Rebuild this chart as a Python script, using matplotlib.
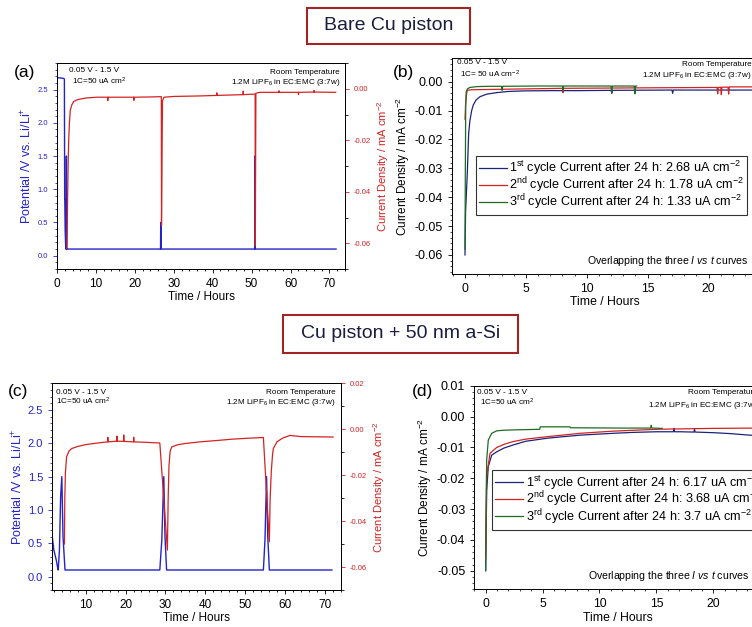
import numpy as np
import matplotlib.pyplot as plt
from matplotlib.patches import Rectangle
from matplotlib.ticker import MultipleLocator, FormatStrFormatter

plt.rcParams['font.family'] = ['Liberation Sans', 'DejaVu Sans']
plt.rcParams['axes.unicode_minus'] = False
plt.rcParams['mathtext.fontset'] = 'custom'
plt.rcParams['mathtext.rm'] = 'Liberation Sans'
plt.rcParams['mathtext.it'] = 'Liberation Sans:italic'

# ---- (a) bare Cu piston, potential and current vs time ----
a_pot_t = [0, 1.6, 1.9, 1.97, 2.0, 2.1, 2.25, 2.35, 2.42, 2.5, 2.56,
           26.6, 26.65, 26.7, 26.75, 50.8, 50.85, 50.9, 50.95, 71.7]
a_pot_v = [2.68, 2.67, 2.66, 0.85, 0.85, 0.38, 0.10, 0.10, 1.50, 0.10, 0.10,
           0.10, 0.50, 0.50, 0.10, 0.10, 1.50, 1.50, 0.10, 0.10]
a_cur_t = [2.56, 2.7, 2.85, 3.0, 3.2, 3.42, 3.8, 4.27, 5.0, 5.98, 7.5, 10.3,
           13.0, 13.05, 13.1, 19.7, 19.75, 19.8, 24.0, 26.5, 26.8, 26.85,
           27.1, 27.5, 30.0, 36.9, 41.0, 41.05, 41.1, 47.8, 47.85, 47.9,
           50.6, 50.9, 50.95, 51.1, 51.5, 52.1, 55.0, 57.0, 57.05, 57.1,
           62.0, 62.05, 62.1, 66.0, 66.05, 66.1, 71.6]
a_cur_v = [-0.062, -0.045, -0.030, -0.020, -0.013, -0.0082, -0.0062, -0.0049,
           -0.0043, -0.0039, -0.0035, -0.0032, -0.0032, -0.0045, -0.0032,
           -0.0032, -0.0044, -0.0032, -0.0031, -0.0030, -0.0030, -0.053,
           -0.0046, -0.0032, -0.0029, -0.0027, -0.0025, -0.0015, -0.0025,
           -0.0022, -0.0008, -0.0022, -0.0020, -0.0020, -0.061, -0.0017,
           -0.0015, -0.0013, -0.0013, -0.0013, -0.0007, -0.0013, -0.0013,
           -0.0022, -0.0013, -0.0012, -0.0006, -0.0012, -0.0013]

# ---- (b) bare Cu piston, overlapping I vs t ----
b1_t = [0, 0.05, 0.19, 0.3, 0.41, 0.55, 0.68, 0.9, 1.23, 1.8, 2.6, 3.5, 4.8,
        7.0, 9.5, 12.0, 12.05, 12.1, 17.0, 17.05, 17.1, 20.1, 24.0]
b1_v = [-0.060, -0.045, -0.0317, -0.018, -0.0133, -0.0100, -0.0081, -0.0064,
        -0.0052, -0.0043, -0.0038, -0.0034, -0.0032, -0.0031, -0.0031,
        -0.0030, -0.0040, -0.0030, -0.0029, -0.0040, -0.0029, -0.0029,
        -0.0029]
b2_t = [0, 0.05, 0.12, 0.19, 0.5, 2.0, 5.0, 8.0, 8.05, 8.1, 12.0, 16.0,
        20.7, 20.75, 20.8, 21.0, 21.05, 21.1, 21.6, 21.65, 21.7, 24.0]
b2_v = [-0.013, -0.008, -0.0045, -0.0030, -0.0028, -0.0027, -0.0025,
        -0.0023, -0.0038, -0.0023, -0.0022, -0.0021, -0.0020, -0.0042,
        -0.0020, -0.0019, -0.0045, -0.0019, -0.0019, -0.0043, -0.0018,
        -0.0018]
b3_t = [0, 0.03, 0.06, 0.1, 0.2, 0.4, 1.0, 2.0, 3.0, 3.05, 3.1, 6.0, 8.0,
        8.05, 8.1, 10.0, 12.0, 12.05, 12.1, 13.9, 13.95, 14.0, 14.1]
b3_v = [-0.058, -0.030, -0.008, -0.0035, -0.0025, -0.0020, -0.0017,
        -0.0016, -0.0016, -0.0030, -0.0016, -0.0015, -0.0015, -0.0030,
        -0.0015, -0.0015, -0.0015, -0.0040, -0.0015, -0.0015, -0.0042,
        -0.0015, -0.0015]

# ---- (c) Cu piston + 50 nm a-Si, potential and current vs time ----
c_pot_t = [1.6, 2.0, 2.6, 3.0, 3.1, 3.4, 3.7, 4.0, 4.3, 4.8,
           28.6, 29.1, 29.6, 29.9, 30.3, 54.6, 55.0, 55.4, 55.7, 56.1, 71.8]
c_pot_v = [0.60, 0.40, 0.25, 0.12, 0.10, 0.40, 1.20, 1.50, 0.60, 0.10,
           0.10, 0.55, 1.50, 0.60, 0.10, 0.10, 0.55, 1.50, 0.60, 0.10, 0.10]
c_cur_t = [4.65, 4.75, 4.9, 5.2, 5.8, 6.5, 8.0, 10.0, 13.0, 15.5, 15.55,
           15.6, 17.8, 17.85, 17.9, 19.5, 19.55, 19.6, 22.0, 22.05, 22.1,
           25.0, 28.6, 30.5, 30.7, 30.9, 31.2, 31.6, 33.0, 35.0, 38.7, 43.0,
           47.0, 51.0, 54.6, 56.1, 56.3, 56.6, 56.9, 57.1, 58.0, 59.5, 61.3,
           64.0, 68.0, 72.1]
c_cur_v = [-0.050, -0.030, -0.019, -0.012, -0.0095, -0.0084, -0.0075,
           -0.0067, -0.0060, -0.0055, -0.0035, -0.0055, -0.0052, -0.0030,
           -0.0052, -0.0053, -0.0025, -0.0053, -0.0055, -0.0035, -0.0055,
           -0.0057, -0.0060, -0.0526, -0.030, -0.016, -0.0095, -0.0077,
           -0.0068, -0.0062, -0.0055, -0.0049, -0.0043, -0.0039, -0.0036,
           -0.049, -0.030, -0.018, -0.011, -0.0084, -0.0055, -0.0038,
           -0.0027, -0.0032, -0.0033, -0.0034]

# ---- (d) Cu piston + 50 nm a-Si, overlapping I vs t ----
d1_t = [0, 0.05, 0.09, 0.23, 0.53, 0.97, 1.6, 2.4, 3.5, 5.4, 6.5, 8.3, 11.2,
        13.0, 15.0, 16.5, 16.55, 16.6, 17.1, 18.3, 18.35, 18.4, 20.0, 21.5,
        23.2, 24.0]
d1_v = [-0.050, -0.035, -0.024, -0.0162, -0.0125, -0.0114, -0.0102,
        -0.0092, -0.0080, -0.0070, -0.0066, -0.0060, -0.0054, -0.0051,
        -0.0049, -0.0049, -0.0038, -0.0049, -0.0049, -0.0050, -0.0040,
        -0.0050, -0.0052, -0.0055, -0.0060, -0.0062]
d2_t = [0, 0.05, 0.09, 0.38, 0.97, 1.6, 2.4, 3.5, 5.4, 8.3, 11.2, 15.0,
        20.0, 24.0]
d2_v = [-0.046, -0.030, -0.0195, -0.0119, -0.0100, -0.0090, -0.0081,
        -0.0073, -0.0065, -0.0054, -0.0047, -0.0041, -0.0038, -0.0037]
d3_t = [0, 0.05, 0.09, 0.23, 0.53, 0.97, 1.6, 2.4, 4.75, 4.8, 7.4, 7.45,
        12.0, 14.5, 14.55, 14.6, 15.5]
d3_v = [-0.050, -0.025, -0.014, -0.0076, -0.0054, -0.0046, -0.0044,
        -0.0043, -0.0041, -0.0033, -0.0033, -0.0036, -0.0037, -0.0037,
        -0.0028, -0.0037, -0.0038]

legend_b = ['1$^{\\rm st}$ cycle Current after 24 h: 2.68 uA cm$^{-2}$',
            '2$^{\\rm nd}$ cycle Current after 24 h: 1.78 uA cm$^{-2}$',
            '3$^{\\rm rd}$ cycle Current after 24 h: 1.33 uA cm$^{-2}$']
legend_d = ['1$^{\\rm st}$ cycle Current after 24 h: 6.17 uA cm$^{-2}$',
            '2$^{\\rm nd}$ cycle Current after 24 h: 3.68 uA cm$^{-2}$',
            '3$^{\\rm rd}$ cycle Current after 24 h: 3.7 uA cm$^{-2}$']

BLUE = '#2323c8'
RED = '#d42222'
NAVY = '#1c237a'
GREEN = '#1f6b26'

fig = plt.figure(figsize=(7.52, 6.27), dpi=100)


def notes(ax, pos, rate_txt, fs=5.9):
    (x1, y1), (x2, y2), (x3, y3), (y4) = pos
    ax.text(x1, y1, '0.05 V - 1.5 V', transform=ax.transAxes,
            fontsize=fs, va='center', ha='left')
    ax.text(x2, y2, rate_txt, transform=ax.transAxes,
            fontsize=fs, va='center', ha='left')
    ax.text(x3, y3, 'Room Temperature', transform=ax.transAxes,
            fontsize=fs, va='center', ha='right')
    ax.text(x3, y4, '1.2M LiPF$_{6}$ in EC:EMC (3:7w)',
            transform=ax.transAxes, fontsize=fs, va='center', ha='right')


def pot_panel(rect, pt, pv, ct, cv, xlim, rlim, rticks, lfs, note_pos):
    ax = fig.add_axes(rect)
    ax.plot(pt, pv, color=BLUE, lw=1.0)
    ax.set_xlim(*xlim)
    ax.set_ylim(-0.2, 2.9)
    ax.yaxis.set_major_locator(MultipleLocator(0.5))
    ax.yaxis.set_minor_locator(MultipleLocator(0.1))
    ax.yaxis.set_major_formatter(FormatStrFormatter('%.1f'))
    ax.xaxis.set_major_locator(MultipleLocator(10))
    ax.xaxis.set_minor_locator(MultipleLocator(2))
    ax.tick_params(axis='y', colors=BLUE, labelsize=lfs, length=3, width=0.6)
    ax.tick_params(axis='y', which='minor', colors=BLUE, length=1.5)
    ax.tick_params(axis='x', labelsize=8.5, length=3, width=0.6)
    ax.tick_params(axis='x', which='minor', length=1.5)
    ax.set_ylabel('Potential /V vs. Li/Li$^{+}$', color=BLUE, fontsize=9,
                  labelpad=2)
    ax.set_xlabel('Time / Hours', fontsize=8.5, labelpad=1)
    ax2 = ax.twinx()
    ax2.plot(ct, cv, color=RED, lw=0.9)
    ax2.set_ylim(*rlim)
    ax2.set_yticks(rticks)
    ax2.yaxis.set_minor_locator(MultipleLocator(0.01))
    ax2.yaxis.set_major_formatter(FormatStrFormatter('%.2f'))
    ax2.tick_params(axis='y', colors=RED, labelsize=5.5, length=3, width=0.6)
    ax2.tick_params(axis='y', which='minor', colors='black', length=2)
    ax2.set_ylabel('Current Density / mA cm$^{-2}$', color=RED,
                   fontsize=8, labelpad=3)
    for s in ax.spines.values():
        s.set_linewidth(0.7)
    for s in ax2.spines.values():
        s.set_linewidth(0.7)
    notes(ax, note_pos, '1C=50 uA cm$^{2}$')
    return ax


def overlap_panel(rect, series, labels, xlim, ylim, yticks, leg_anchor,
                  over_pos, note_pos, rate_txt):
    ax = fig.add_axes(rect)
    for (t, v), c, lab in zip(series, [NAVY, RED, GREEN], labels):
        ax.plot(t, v, color=c, lw=0.9, label=lab)
    ax.set_xlim(*xlim)
    ax.set_ylim(*ylim)
    ax.set_yticks(yticks)
    ax.yaxis.set_minor_locator(MultipleLocator(0.002))
    ax.yaxis.set_major_formatter(FormatStrFormatter('%.2f'))
    ax.xaxis.set_major_locator(MultipleLocator(5))
    ax.xaxis.set_minor_locator(MultipleLocator(1))
    ax.tick_params(axis='y', labelsize=9, length=3, width=0.6)
    ax.tick_params(axis='x', labelsize=8.8, length=3, width=0.6)
    ax.tick_params(which='minor', length=1.5, width=0.5)
    ax.set_ylabel('Current Density / mA cm$^{-2}$', fontsize=8.5, labelpad=2)
    ax.set_xlabel('Time / Hours', fontsize=8.8, labelpad=1)
    for s in ax.spines.values():
        s.set_linewidth(0.7)
    leg = ax.legend(loc='upper left', bbox_to_anchor=leg_anchor, fontsize=9.1,
                    frameon=True, fancybox=False, edgecolor='black',
                    handlelength=2.2, handletextpad=0.2, labelspacing=-0.17,
                    borderpad=0.25, borderaxespad=0)
    leg.get_frame().set_linewidth(0.8)
    ax.text(over_pos[0], over_pos[1],
            'Overlapping the three $\\mathit{I}$ $\\mathit{vs}$ $\\mathit{t}$ curves',
            transform=ax.transAxes, fontsize=7.6, ha='right', va='center')
    notes(ax, note_pos, rate_txt)
    return ax


ax_a = pot_panel([0.0758, 0.571, 0.383, 0.3285], a_pot_t, a_pot_v,
                 a_cur_t, a_cur_v, (0, 74), (-0.07, 0.0101),
                 [0.0, -0.02, -0.04, -0.06], 5.5,
                 [(0.042, 0.966), (0.052, 0.913), (0.983, 0.955), 0.905])
ax_b = overlap_panel([0.601, 0.563, 0.406, 0.3445],
                     [(b1_t, b1_v), (b2_t, b2_v), (b3_t, b3_v)], legend_b,
                     (-1.07, 24.0), (-0.0666, 0.0082),
                     [0.0, -0.01, -0.02, -0.03, -0.04, -0.05, -0.06],
                     (0.078, 0.546), (0.97, 0.062),
                     [(0.015, 0.977), (0.026, 0.926), (0.98, 0.972), 0.921],
                     '1C= 50 uA cm$^{-2}$')
ax_c = pot_panel([0.0695, 0.059, 0.3835, 0.3297], c_pot_t, c_pot_v,
                 c_cur_t, c_cur_v, (1.6, 74), (-0.07, 0.02),
                 [0.02, 0.0, -0.02, -0.04, -0.06], 8,
                 [(0.013, 0.956), (0.013, 0.911), (0.983, 0.956), 0.908])
ax_d = overlap_panel([0.6307, 0.0603, 0.3826, 0.3243],
                     [(d1_t, d1_v), (d2_t, d2_v), (d3_t, d3_v)], legend_d,
                     (-1.0, 24.28), (-0.056, 0.01),
                     [0.01, 0.0, -0.01, -0.02, -0.03, -0.04, -0.05],
                     (0.062, 0.585), (0.958, 0.067),
                     [(0.008, 0.966), (0.019, 0.917), (0.985, 0.966), 0.904],
                     '1C=50 uA cm$^{2}$')

# panel letters
fig.text(0.018, 0.885, '(a)', fontsize=12.5, va='center')
fig.text(0.523, 0.885, '(b)', fontsize=12.5, va='center')
fig.text(0.011, 0.375, '(c)', fontsize=12.5, va='center')
fig.text(0.548, 0.375, '(d)', fontsize=12.5, va='center')

# section titles in boxes
for x0, y0, x1, y1, txt in [(307, 8, 470, 44, 'Bare Cu piston'),
                            (283, 315, 518, 353, 'Cu piston + 50 nm a-Si')]:
    fig.patches.append(Rectangle((x0 / 752, 1 - y1 / 627),
                                 (x1 - x0) / 752, (y1 - y0) / 627,
                                 transform=fig.transFigure, fill=False,
                                 edgecolor='#a32424', lw=1.5))
    fig.text((x0 + x1) / 2 / 752, 1 - (y0 + y1) / 2 / 627, txt,
             fontsize=14, color='#1a1d3c', ha='center', va='center')

fig.savefig('out.png', dpi=100)
